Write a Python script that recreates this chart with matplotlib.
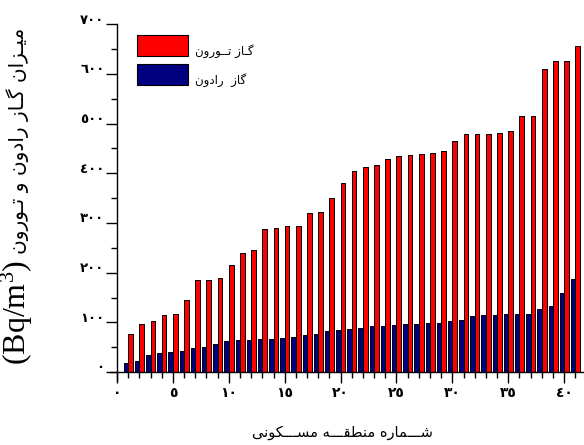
import matplotlib
matplotlib.use("Agg")
import matplotlib.pyplot as plt
from matplotlib.transforms import ScaledTranslation
from matplotlib.patches import Rectangle

# ---------------- data ----------------
regions = [1, 2, 3, 4, 5, 6, 7, 8, 9, 10, 11, 12, 13, 14, 15, 16, 17, 18, 19, 20,
           21, 22, 23, 24, 25, 26, 27, 28, 29, 30, 31, 32, 33, 34, 35, 36, 37, 38, 39, 40, 41]
thoron = [77, 97, 103, 114, 116, 146, 185, 186, 190, 216, 240, 245, 287, 290, 293, 293,
          321, 323, 351, 380, 405, 412, 417, 428, 434, 436, 438, 440, 445, 465, 480, 480,
          480, 482, 485, 516, 516, 611, 627, 627, 656]
radon = [19, 23, 34, 38, 41, 43, 49, 51, 56, 62, 64, 65, 67, 67, 68, 71, 74, 77, 83, 85,
         86, 88, 92, 92, 94, 96, 96, 98, 98, 102, 105, 112, 114, 114, 116, 116, 116, 127,
         132, 159, 188]
x_ticks = [0, 5, 10, 15, 20, 25, 30, 35, 40]
x_tick_labels = ['٠', '٥', '١٠', '١٥', '٢٠', '٢٥', '٣٠', '٣٥', '٤٠']
y_ticks = [0, 100, 200, 300, 400, 500, 600, 700]
y_tick_labels = ['٠', '١٠٠', '٢٠٠', '٣٠٠', '٤٠٠', '٥٠٠', '٦٠٠', '٧٠٠']
label_thoron = 'گـاز تــورون'
label_radon = 'گاز  رادون'
xlabel_text = 'شـــماره منطقـــه مســـکونی'
ylabel_fa = 'میـزان گـاز رادون و تـورون'
ylabel_unit = r'(Bq/m$^{\mathrm{3}}$)'

# ------------- minimal Arabic/Persian shaping (visual order) -------------
FORMS = {  # iso, fin, ini, med
    'ا': ('\uFE8D', '\uFE8E', None, None),
    'د': ('\uFEA9', '\uFEAA', None, None),
    'ر': ('\uFEAD', '\uFEAE', None, None),
    'ز': ('\uFEAF', '\uFEB0', None, None),
    'و': ('\uFEED', '\uFEEE', None, None),
    'ت': ('\uFE95', '\uFE96', '\uFE97', '\uFE98'),
    'س': ('\uFEB1', '\uFEB2', '\uFEB3', '\uFEB4'),
    'ش': ('\uFEB5', '\uFEB6', '\uFEB7', '\uFEB8'),
    'ط': ('\uFEC1', '\uFEC2', '\uFEC3', '\uFEC4'),
    'ق': ('\uFED5', '\uFED6', '\uFED7', '\uFED8'),
    'م': ('\uFEE1', '\uFEE2', '\uFEE3', '\uFEE4'),
    'ن': ('\uFEE5', '\uFEE6', '\uFEE7', '\uFEE8'),
    'ه': ('\uFEE9', '\uFEEA', '\uFEEB', '\uFEEC'),
    'ی': ('\uFBFC', '\uFBFD', '\uFBFE', '\uFBFF'),
    'ک': ('\uFB8E', '\uFB8F', '\uFB90', '\uFB91'),
    'گ': ('\uFB92', '\uFB93', '\uFB94', '\uFB95'),
}
TATWEEL = '\u0640'


def dual(c):
    return c == TATWEEL or (c in FORMS and FORMS[c][2] is not None)


def joinable(c):
    return c == TATWEEL or c in FORMS


def shape(s):
    out = []
    for i, c in enumerate(s):
        if c not in FORMS:
            out.append(c)
            continue
        prev = s[i - 1] if i > 0 else ''
        nxt = s[i + 1] if i + 1 < len(s) else ''
        cp = bool(prev) and dual(prev)
        cn = dual(c) and bool(nxt) and joinable(nxt)
        iso, fin, ini, med = FORMS[c]
        if cp and cn:
            out.append(med)
        elif cp:
            out.append(fin)
        elif cn:
            out.append(ini)
        else:
            out.append(iso)
    return ''.join(out)[::-1]


# ---------------- figure ----------------
plt.rcParams['mathtext.fontset'] = 'custom'
plt.rcParams['mathtext.rm'] = 'Liberation Serif'
plt.rcParams['mathtext.it'] = 'Liberation Serif:italic'

fig = plt.figure(figsize=(5.84, 4.45), dpi=100)
ax = fig.add_axes([0.1889, 0.1461, 0.8097, 0.7993])

w = 0.42
x_r = [r - 0.19 for r in regions]
x_t = [r + 0.21 for r in regions]
sh = 0.09
ax.bar([x + sh for x in x_r], radon, width=w, color='#8c7070', edgecolor='none', zorder=1)
ax.bar([x + sh for x in x_t], thoron, width=w, color='#8c6060', edgecolor='none', zorder=1)
ax.bar(x_r, radon, width=w, color='#000080', edgecolor='black', linewidth=0.7, zorder=2)
ax.bar(x_t, thoron, width=w, color='#ff0000', edgecolor='black', linewidth=0.7, zorder=2)

ax.set_xlim(-0.6, 41.7)
ax.set_ylim(-16, 700)
for s in ['top', 'right']:
    ax.spines[s].set_visible(False)
ax.spines['left'].set_position(('data', 0))
ax.spines['bottom'].set_position(('data', 0))
ax.spines['left'].set_linewidth(1.0)
ax.spines['bottom'].set_linewidth(1.0)

ax.set_xticks(x_ticks)
ax.set_xticklabels(x_tick_labels, fontsize=10, fontweight='bold', family='DejaVu Sans')
ax.set_xticks(regions, minor=True)
ax.set_yticks(y_ticks)
ax.set_yticklabels(y_tick_labels, fontsize=9.5, fontweight='bold', family='DejaVu Sans')
ax.set_yticks([50, 150, 250, 350, 450, 550, 650], minor=True)
ax.tick_params(axis='both', which='major', direction='out', length=8, width=1)
ax.tick_params(axis='both', which='minor', direction='out', length=4, width=1)
ax.tick_params(axis='y', which='major', pad=1)
ax.tick_params(axis='x', which='major', pad=2)
for lab in ax.get_yticklabels():
    lab.set_transform(lab.get_transform() + ScaledTranslation(0, 4 / 72, fig.dpi_scale_trans))

# legend (manual patches in axes pixel positions)
def px2ax(px, py):
    inv = ax.transAxes.inverted()
    return inv.transform(fig.transFigure.transform((px / 584, 1 - py / 445)))

for (y0, y1, col, txt) in [(35, 56, '#ff0000', label_thoron), (64, 85, '#000080', label_radon)]:
    (ax0, ay0) = px2ax(137, y1)
    (ax1, ay1) = px2ax(188, y0)
    ax.add_patch(Rectangle((ax0, ay0), ax1 - ax0, ay1 - ay0, transform=ax.transAxes,
                           facecolor=col, edgecolor='black', linewidth=0.8, zorder=3))
    tx, ty = px2ax(195, (y0 + y1) / 2 + 6)
    ax.text(tx, ty, shape(txt), transform=ax.transAxes, fontsize=8.5,
            family='DejaVu Sans', ha='left', va='center')

# axis labels
fig.text(342 / 584, 1 - 432 / 445, shape(xlabel_text), fontsize=10.5, family='DejaVu Sans',
         ha='center', va='center')
fig.text(17 / 584, 1 - 312 / 445, ylabel_unit, fontsize=23, family='Liberation Serif',
         rotation=90, ha='center', va='center')
fig.text(18 / 584, 1 - 141 / 445, shape(ylabel_fa), fontsize=14.5, family='DejaVu Sans',
         rotation=90, ha='center', va='center')

fig.savefig('out.png', dpi=100)
